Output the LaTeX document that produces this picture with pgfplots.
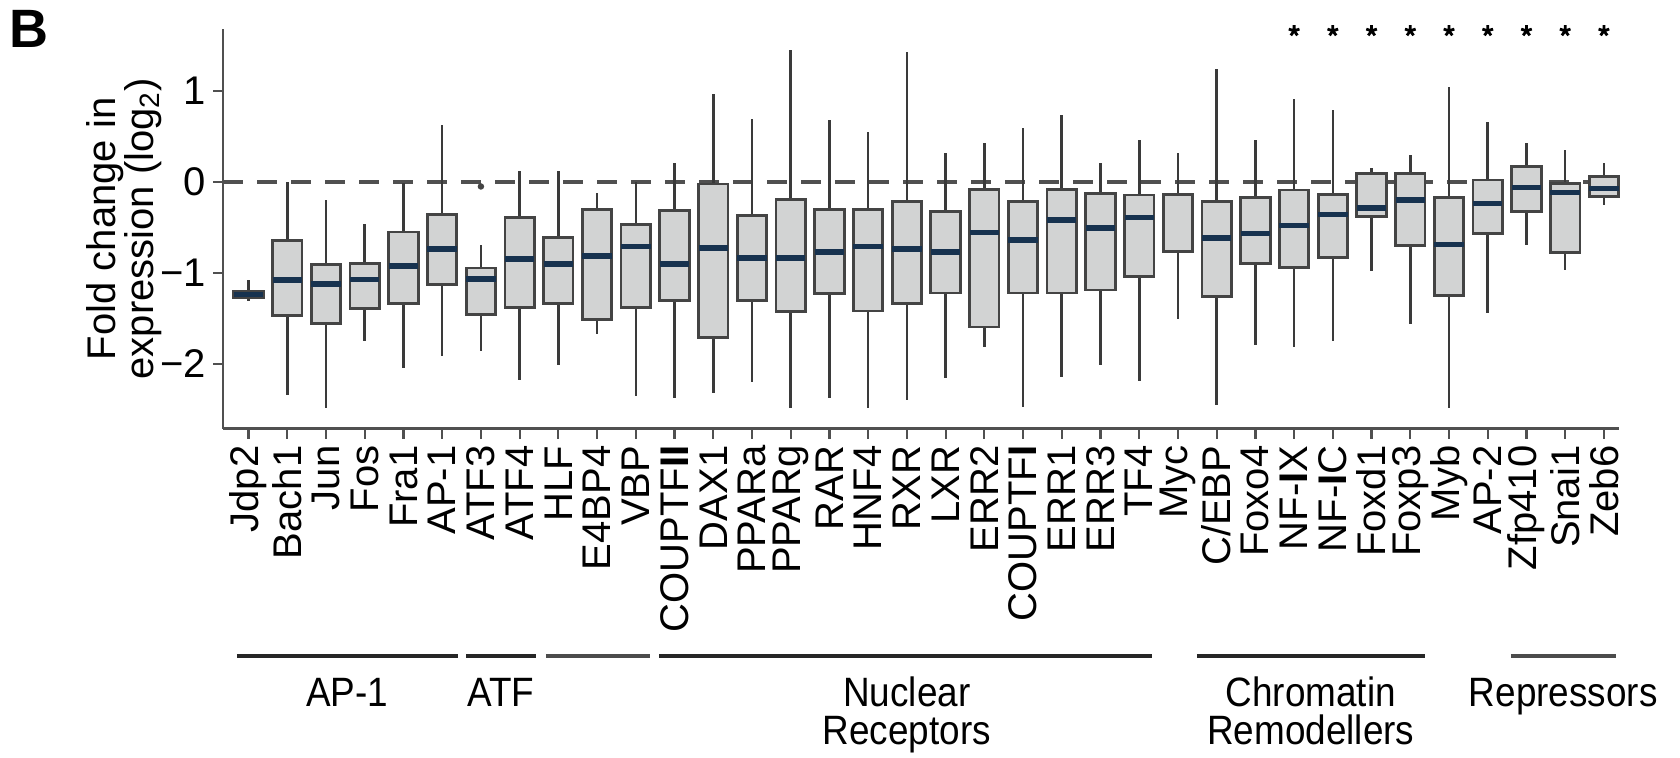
\documentclass[border=0pt]{standalone}
\usepackage{fontspec}
\setmainfont{Liberation Sans}
\newfontfamily\narrowfont[FakeStretch=0.9]{Liberation Sans}
\usepackage{pgfplots}
\usepackage{pgfplotstable}
\pgfplotsset{compat=1.18}
\usepgfplotslibrary{statistics}
\definecolor{boxfill}{HTML}{D2D3D3}
\definecolor{boxedge}{HTML}{444444}
\definecolor{whisk}{HTML}{3A3A3A}
\definecolor{mednavy}{HTML}{17324F}
\definecolor{axgray}{HTML}{505050}
\newcommand\lbl{\fontsize{20}{22}\selectfont}
\newcommand\grp{\narrowfont\fontsize{20.5}{22}\selectfont}

\pgfplotstableread{
lw lq med uq uw
-1.31 -1.275 -1.235 -1.2 -1.08
-2.34 -1.465 -1.077 -0.642 0
-2.487 -1.557 -1.122 -0.911 -0.199
-1.749 -1.387 -1.07 -0.893 -0.465
-2.044 -1.336 -0.926 -0.55 -0.015
-1.915 -1.129 -0.734 -0.358 0.624
-1.86 -1.454 -1.066 -0.945 -0.69
-2.173 -1.38 -0.845 -0.387 0.125
-2.007 -1.332 -0.9 -0.613 0.125
-1.675 -1.509 -0.812 -0.303 -0.125
-2.347 -1.38 -0.708 -0.465 0
-2.376 -1.306 -0.9 -0.31 0.207
-2.321 -1.705 -0.727 -0.022 0.963
-2.199 -1.306 -0.834 -0.365 0.694
-2.487 -1.424 -0.834 -0.192 1.454
-2.376 -1.225 -0.771 -0.303 0.679
-2.487 -1.417 -0.708 -0.303 0.55
-2.395 -1.336 -0.734 -0.214 1.432
-2.155 -1.221 -0.771 -0.321 0.317
-1.815 -1.594 -0.557 -0.081 0.428
-2.469 -1.221 -0.635 -0.218 0.594
-2.148 -1.221 -0.421 -0.081 0.731
-2.015 -1.188 -0.506 -0.125 0.207
-2.19 -1.04 -0.39 -0.144 0.458
-1.509 -0.76 -0.137 -0.137 0.317
-2.45 -1.258 -0.616 -0.218 1.24
-1.786 -0.9 -0.568 -0.17 0.458
-1.815 -0.937 -0.48 -0.089 0.915
-1.749 -0.827 -0.358 -0.137 0.79
-0.982 -0.384 -0.288 0.096 0.151
-1.565 -0.697 -0.199 0.089 0.292
-2.48 -1.251 -0.686 -0.173 1.044
-1.435 -0.568 -0.236 0.022 0.657
-0.697 -0.328 -0.063 0.17 0.428
-0.967 -0.779 -0.118 -0.015 0.347
-0.255 -0.162 -0.074 0.059 0.207
}\boxdata

\newcommand\getrow[1]{%
  \pgfplotstablegetelem{#1}{lw}\of\boxdata \let\vlw\pgfplotsretval
  \pgfplotstablegetelem{#1}{lq}\of\boxdata \let\vlq\pgfplotsretval
  \pgfplotstablegetelem{#1}{med}\of\boxdata \let\vmed\pgfplotsretval
  \pgfplotstablegetelem{#1}{uq}\of\boxdata \let\vuq\pgfplotsretval
  \pgfplotstablegetelem{#1}{uw}\of\boxdata \let\vuw\pgfplotsretval
}

\begin{document}
\begin{tikzpicture}
\useasboundingbox (0,0) rectangle (840pt,378.5pt);
\node[anchor=base west, inner sep=0pt, font=\bfseries\fontsize{27}{30}\selectfont] at (4.5pt,354.5pt) {B};
\begin{axis}[
  at={(111.5pt,164.2pt)}, anchor=south west,
  scale only axis, width=698pt, height=199.8pt,
  xmin=-0.66, xmax=35.39, ymin=-2.71, ymax=1.68,
  axis x line*=bottom, axis y line*=left,
  axis line style={draw=axgray, line width=1.2pt},
  tick align=outside, major tick length=5pt,
  tick style={draw=axgray, line width=1.1pt},
  xtick={0,...,35},
  xticklabels={Jdp2,Bach1,Jun,Fos,Fra1,AP-1,ATF3,ATF4,HLF,E4BP4,VBP,COUPTF\textbf{II},DAX1,PPARa,PPARg,RAR,HNF4,RXR,LXR,ERR2,COUPTF\textbf{I},ERR1,ERR3,TF4,Myc,C/EBP,Foxo4,NF-\textbf{I}X,NF-\textbf{I}C,Foxd1,Foxp3,Myb,AP-2,Zfp410,Snai1,Zeb6},
  xticklabel style={rotate=90, anchor=east, font=\lbl},
  ytick={-2,-1,0,1},
  yticklabels={−2,−1,0,1},
  yticklabel style={font=\lbl},
  clip=false,
  boxplot/draw direction=y,
  boxplot/box extend=0.76,
  boxplot/whisker extend=0,
  boxplot/every box/.style={draw=boxedge, fill=boxfill, line width=1.4pt},
  boxplot/every whisker/.style={draw=whisk, line width=1.3pt},
  boxplot/every median/.style={draw=mednavy, line width=2.8pt},
]
\addplot[draw=axgray, line width=1.7pt, dash pattern=on 10pt off 7pt] coordinates {(-0.66,0) (35.39,0)};
\pgfplotsinvokeforeach{0,...,23,25,26,...,35}{
  \getrow{#1}
  \edef\doplot{\noexpand\addplot[boxplot prepared={draw position=#1, lower whisker=\vlw, lower quartile=\vlq, median=\vmed, upper quartile=\vuq, upper whisker=\vuw}] coordinates {};}
  \doplot
}
\getrow{24}
\edef\doplot{\noexpand\addplot[boxplot prepared={draw position=24, lower whisker=\vlw, lower quartile=\vlq, median=\vmed, upper quartile=\vuq, upper whisker=\vuw, every median/.style={draw=boxedge, line width=1.4pt}}] coordinates {};}
\doplot
\addplot[only marks, mark=*, mark size=1.4pt, color=boxedge] coordinates {(6,-0.05)};
\addplot[only marks, mark=star, mark size=2.8pt, line width=1.4pt, color=black] coordinates {(27,1.66) (28,1.66) (29,1.66) (30,1.66) (31,1.66) (32,1.66) (33,1.66) (34,1.66) (35,1.66)};
% group lines
\draw[line width=2.3pt, color=black!85] ([yshift=-113.7pt]axis cs:-0.3,-2.71) -- ([yshift=-113.7pt]axis cs:5.4,-2.71);
\draw[line width=2.3pt, color=black!85] ([yshift=-113.7pt]axis cs:5.62,-2.71) -- ([yshift=-113.7pt]axis cs:7.42,-2.71);
\draw[line width=2.3pt, color=black!70] ([yshift=-113.7pt]axis cs:7.68,-2.71) -- ([yshift=-113.7pt]axis cs:10.36,-2.71);
\draw[line width=2.3pt, color=black!85] ([yshift=-113.7pt]axis cs:10.6,-2.71) -- ([yshift=-113.7pt]axis cs:23.33,-2.71);
\draw[line width=2.3pt, color=black!85] ([yshift=-113.7pt]axis cs:24.49,-2.71) -- ([yshift=-113.7pt]axis cs:30.37,-2.71);
\draw[line width=2.3pt, color=black!70] ([yshift=-113.7pt]axis cs:32.6,-2.71) -- ([yshift=-113.7pt]axis cs:35.3,-2.71);
\node[anchor=base, inner sep=0pt, font=\grp] at ([yshift=-138.7pt]axis cs:2.55,-2.71) {AP-1};
\node[anchor=base, inner sep=0pt, font=\grp] at ([yshift=-138.7pt]axis cs:6.52,-2.71) {ATF};
\node[anchor=base, inner sep=0pt, font=\grp] at ([yshift=-138.7pt]axis cs:17.0,-2.71) {Nuclear};
\node[anchor=base, inner sep=0pt, font=\grp] at ([yshift=-157.7pt]axis cs:17.0,-2.71) {Receptors};
\node[anchor=base, inner sep=0pt, font=\grp] at ([yshift=-138.7pt]axis cs:27.43,-2.71) {Chromatin};
\node[anchor=base, inner sep=0pt, font=\grp] at ([yshift=-157.7pt]axis cs:27.43,-2.71) {Remodellers};
\node[anchor=base, inner sep=0pt, font=\grp] at ([yshift=-138.7pt]axis cs:33.95,-2.71) {Repressors};
% y label
\node[rotate=90, anchor=base, inner sep=0pt, font=\lbl] at ([xshift=-53.5pt]axis cs:-0.66,-0.515) {Fold change in};
\node[rotate=90, anchor=base, inner sep=0pt, font=\lbl] at ([xshift=-35pt]axis cs:-0.66,-0.515) {expression (log\textsubscript{2})};
\end{axis}
\end{tikzpicture}
\end{document}
